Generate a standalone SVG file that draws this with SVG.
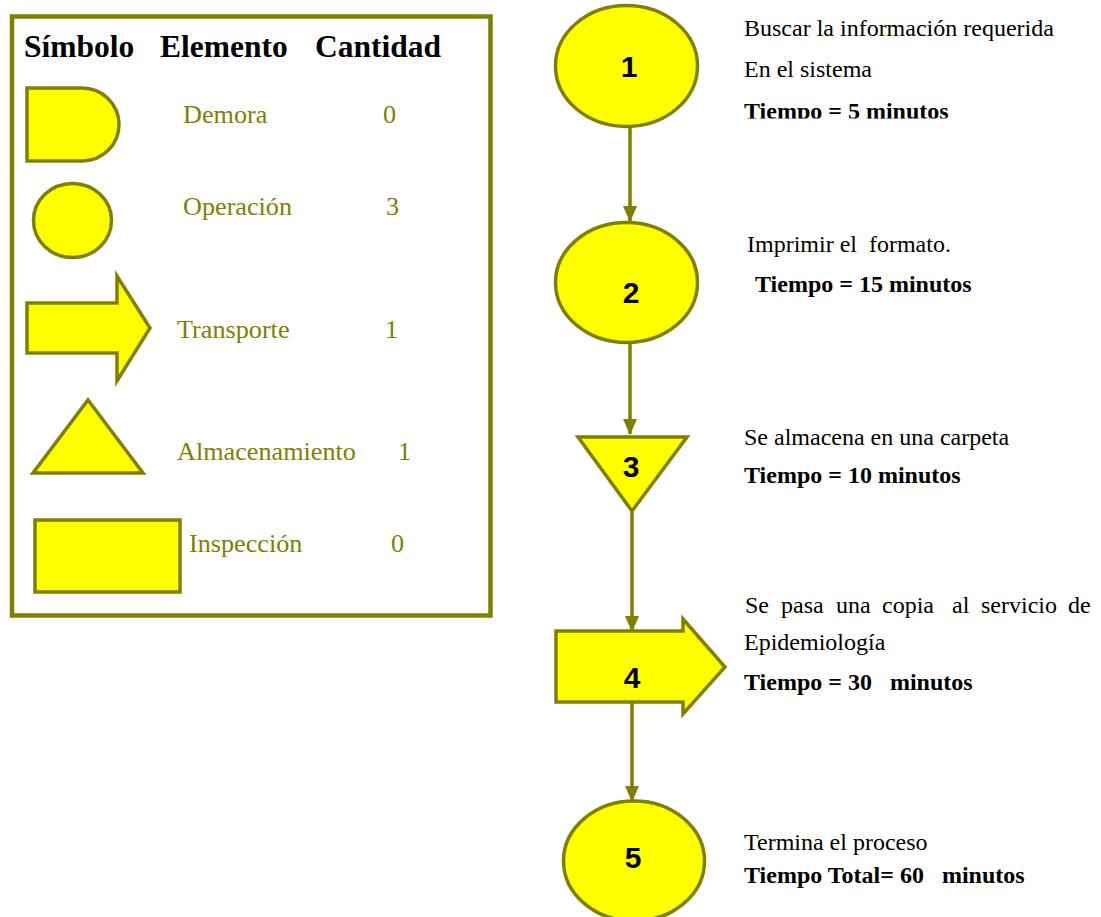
<svg xmlns="http://www.w3.org/2000/svg" width="1101" height="917" viewBox="0 0 1101 917">
  <style>
    .shape { fill: #FFFF00; stroke: #808000; stroke-width: 3.5; stroke-linejoin: miter; }
    .frame { fill: #FFFFFF; stroke: #808000; stroke-width: 4.5; }
    .head { font-family: "Liberation Serif", "Times New Roman", serif; font-weight: bold; font-size: 31.5px; fill: #000000; }
    .leg { font-family: "Liberation Serif", "Times New Roman", serif; font-size: 26.2px; fill: #808000; }
    .num { font-family: "Liberation Sans", Arial, sans-serif; font-weight: bold; font-size: 30px; fill: #000000; text-anchor: middle; }
    .desc { font-family: "Liberation Serif", "Times New Roman", serif; font-size: 24px; fill: #000000; white-space: pre; }
    .desc.b { font-weight: bold; }
    .conn { stroke: #808000; stroke-width: 3.5; fill: none; marker-end: url(#arrow); }
  </style>
  <defs>
    <marker id="arrow" viewBox="0 0 16 14" refX="15" refY="7" markerWidth="16" markerHeight="14" markerUnits="userSpaceOnUse" orient="auto">
      <path d="M0,0 L16,7 L0,14 Z" fill="#808000"/>
    </marker>
    <clipPath id="clip-n1">
      <rect x="700" y="0" width="400" height="118.5"/>
    </clipPath>
  </defs>

  <rect width="1101" height="917" fill="#FFFFFF"/>

  <!-- legend: symbol, element, count -->
  <g id="legend">
    <rect class="frame" x="12" y="16.5" width="478.5" height="599"/>
    <text class="head" x="24" y="57">Símbolo</text>
    <text class="head" x="160" y="57">Elemento</text>
    <text class="head" x="315" y="57">Cantidad</text>

    <g id="legend-demora">
      <path class="shape" d="M27,88 H82 A37,36.5 0 0 1 82,161 H27 Z"/>
      <text class="leg" x="183" y="123">Demora</text>
      <text class="leg" x="383" y="123">0</text>
    </g>
    <g id="legend-operacion">
      <ellipse class="shape" cx="72.5" cy="220.5" rx="39" ry="37"/>
      <text class="leg" x="183" y="215">Operación</text>
      <text class="leg" x="386" y="215">3</text>
    </g>
    <g id="legend-transporte">
      <path class="shape" d="M27,303 H117 V276 L150,328 L117,381 V353 H27 Z"/>
      <text class="leg" x="177" y="338">Transporte</text>
      <text class="leg" x="385" y="338">1</text>
    </g>
    <g id="legend-almacenamiento">
      <path class="shape" d="M88,400 L143,473 H33 Z"/>
      <text class="leg" x="177" y="460">Almacenamiento</text>
      <text class="leg" x="398" y="460">1</text>
    </g>
    <g id="legend-inspeccion">
      <rect class="shape" x="35" y="520" width="145" height="72"/>
      <text class="leg" x="189" y="552">Inspección</text>
      <text class="leg" x="391" y="552">0</text>
    </g>
  </g>

  <!-- connectors between process steps -->
  <g id="connectors">
    <line class="conn" x1="630" y1="127" x2="630" y2="221"/>
    <line class="conn" x1="630" y1="343" x2="630" y2="434"/>
    <line class="conn" x1="632" y1="512" x2="632" y2="631"/>
    <line class="conn" x1="632" y1="702" x2="632" y2="801"/>
  </g>

  <!-- step 1: operation -->
  <g id="n1">
    <ellipse class="shape" cx="626.5" cy="66" rx="71" ry="60.5"/>
    <text class="num" x="629" y="77">1</text>
    <text class="desc" x="744" y="36">Buscar la información requerida</text>
    <text class="desc" x="744" y="77">En el sistema</text>
    <text class="desc b" x="744" y="119" clip-path="url(#clip-n1)">Tiempo = 5 minutos</text>
  </g>

  <!-- step 2: operation -->
  <g id="n2">
    <ellipse class="shape" cx="626.5" cy="282.5" rx="71" ry="60"/>
    <text class="num" x="631" y="303">2</text>
    <text class="desc" x="747" y="252">Imprimir el  formato.</text>
    <text class="desc b" x="755" y="292">Tiempo = 15 minutos</text>
  </g>

  <!-- step 3: storage -->
  <g id="n3">
    <path class="shape" d="M578,437 H687 L632,511 Z"/>
    <text class="num" x="631" y="477">3</text>
    <text class="desc" x="744" y="445">Se almacena en una carpeta</text>
    <text class="desc b" x="744" y="483">Tiempo = 10 minutos</text>
  </g>

  <!-- step 4: transport (justified first line) -->
  <g id="n4">
    <path class="shape" d="M556,631 H683 V619 L725,667 L683,714 V702 H556 Z"/>
    <text class="num" x="632" y="688">4</text>
    <text class="desc" y="613"><tspan x="745">Se</tspan><tspan x="781">pasa</tspan><tspan x="836">una</tspan><tspan x="882">copia</tspan><tspan x="952">al</tspan><tspan x="981">servicio</tspan><tspan x="1068">de</tspan></text>
    <text class="desc" x="744" y="650">Epidemiología</text>
    <text class="desc b" x="744" y="690">Tiempo = 30   minutos</text>
  </g>

  <!-- step 5: operation (end) -->
  <g id="n5">
    <ellipse class="shape" cx="634" cy="861" rx="70.5" ry="60"/>
    <text class="num" x="633" y="868">5</text>
    <text class="desc" x="744" y="850">Termina el proceso</text>
    <text class="desc b" x="744" y="883">Tiempo Total= 60   minutos</text>
  </g>
</svg>
